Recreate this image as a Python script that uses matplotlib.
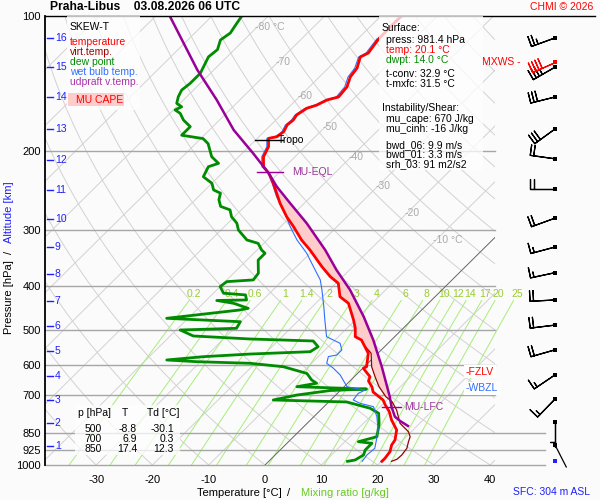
import numpy as np
import matplotlib
matplotlib.use('Agg')
import matplotlib.pyplot as plt
from matplotlib import transforms
from matplotlib.patches import Rectangle
from matplotlib.ticker import NullLocator

plt.rcParams['font.family'] = ['Liberation Sans', 'DejaVu Sans']

# ---- sounding (pressure hPa, temperature degC) ----
temp_p = [100.0, 102.1, 112.5, 120.9, 123.4, 130.6, 136.7, 143.9, 151.5, 153.8,
          157.9, 160.5, 166.1, 170.5, 174.9, 181.0, 185.7, 187.3, 195.5, 205.8,
          216.6, 224.0, 235.8, 261.3, 280.0, 294.6, 315.4, 332.0, 361.6, 380.7,
          393.8, 421.8, 436.4, 475.4, 496.1, 517.9, 526.8, 564.0, 604.1, 609.0,
          635.9, 650.0, 670.3, 687.7, 716.5, 735.2, 760.7, 793.9, 835.7, 879.7,
          902.5, 933.9, 966.4, 981.4]
temp_t = [-56.3, -56.4, -56.3, -55.6, -56.3, -54.9, -54.5, -53.3, -53.0, -54.5,
          -55.4, -56.6, -57.2, -56.9, -57.1, -56.5, -56.8, -58.0, -56.5, -55.6,
          -53.8, -51.7, -49.1, -44.3, -40.7, -37.7, -33.9, -30.6, -25.5, -22.2,
          -19.6, -16.9, -14.2, -10.3, -8.5, -7.0, -5.3, -1.7, 0.4, 0.1,
          2.8, 3.3, 5.0, 6.1, 9.3, 10.6, 12.5, 14.4, 17.1, 18.6,
          18.9, 19.8, 20.1, 20.1]

tv_p = [546.0, 564.0, 604.1, 635.9, 669.3, 704.5, 722.8, 754.2, 807.5, 843.0,
        865.0, 887.4, 918.0, 950.0, 971.2, 981.4]
tv_t = [-3.3, -1.2, 1.3, 3.7, 6.2, 9.2, 11.2, 13.5, 16.5, 19.5,
        20.7, 21.3, 22.2, 22.5, 22.4, 21.8]

wb_p = [112.5, 120.9, 123.4, 130.6, 136.7, 143.9, 151.5, 153.8, 157.9, 160.5,
        166.1, 170.5, 174.9, 181.0, 185.7, 187.3, 195.5, 205.8, 216.6, 223.6,
        235.8, 252.6, 275.4, 294.6, 315.4, 337.6, 361.6, 387.1, 407.6, 443.7,
        475.4, 517.9, 526.8, 535.8, 554.5, 568.8, 573.6, 593.6, 608.2, 630.3,
        669.3, 681.3, 692.6, 716.5, 728.8, 741.5, 780.6, 835.7, 879.7, 918.0,
        950.0, 981.4]
wb_t = [-56.6, -56.0, -56.6, -55.3, -54.9, -53.7, -53.4, -54.8, -55.7, -56.9,
        -57.5, -57.2, -57.4, -56.8, -57.1, -58.3, -56.8, -55.9, -54.1, -51.8,
        -49.3, -46.1, -41.6, -38.3, -34.7, -30.6, -27.0, -23.4, -21.3, -18.0,
        -15.4, -12.1, -10.3, -8.5, -7.0, -7.0, -8.2, -7.3, -5.3, -2.8,
        0.5, 4.3, 3.7, 4.0, 5.8, 8.8, 11.2, 13.8, 15.3, 16.5,
        16.3, 16.6]

dew_p = [100.0, 103.8, 109.1, 113.1, 118.8, 123.3, 134.2, 141.3, 146.2, 151.3,
         156.5, 159.3, 161.9, 164.7, 170.5, 176.4, 184.3, 187.5, 192.4, 205.8,
         212.9, 216.6, 228.0, 235.8, 244.0, 248.1, 256.6, 265.5, 270.3, 280.0,
         289.4, 299.7, 315.4, 320.9, 332.0, 337.6, 349.6, 374.0, 387.1, 390.5,
         400.5, 414.4, 418.0, 429.0, 430.1, 436.4, 447.8, 451.6, 471.3, 479.6,
         496.1, 500.4, 516.0, 524.0, 529.4, 545.2, 559.3, 566.1, 573.8, 583.6,
         588.7, 593.6, 604.1, 625.2, 646.4, 657.6, 669.3, 677.4, 682.6, 698.5,
         716.5, 723.8, 747.6, 767.0, 810.3, 865.0, 887.4, 894.7, 926.0, 950.0,
         974.7, 981.4]
dew_t = [-84.7, -84.3, -83.7, -84.2, -83.0, -83.3, -81.8, -81.8, -82.1, -81.5,
         -80.6, -79.1, -79.7, -78.2, -76.4, -74.0, -74.0, -69.6, -67.8, -64.8,
         -62.4, -63.6, -62.7, -60.0, -58.5, -56.7, -55.8, -54.3, -52.0, -50.5,
         -48.4, -46.9, -43.6, -41.0, -39.2, -38.0, -38.0, -35.6, -35.3, -39.7,
         -40.0, -38.2, -34.0, -32.9, -38.1, -34.6, -31.1, -32.3, -43.8, -30.1,
         -29.6, -39.3, -35.9, -25.3, -13.7, -11.8, -12.3, -22.6, -30.4, -36.3,
         -30.7, -20.9, -14.4, -9.0, -7.0, -5.5, -8.4, 4.4, -1.8, -6.9,
         -10.2, 3.2, 8.5, 10.9, 12.9, 14.8, 12.4, 15.1, 15.1, 15.7,
         15.1, 14.0]

parcel_p = [100.4, 131.7, 153.8, 179.4, 202.4, 224.0, 239.8, 261.3, 289.4, 332.0,
            367.9, 407.6, 467.3, 526.8, 604.1, 704.5, 741.5, 780.6, 798.0, 818.7]
parcel_t = [-97.3, -83.0, -74.1, -65.7, -58.0, -51.7, -47.9, -42.5, -36.0, -27.9,
            -22.3, -16.3, -9.1, -3.2, 3.1, 9.9, 12.0, 14.4, 16.1, 18.4]

# levels
lfc_p, lfc_t = 741.5, 12.0
eql_p, eql_t = 222.0, -51.8
tropo_p, tropo_t = 189.0, -57.6
fzlv_p = 620.0
wbzl_p = 675.0

# wind (km levels)
wind_p = [111.9, 130.0, 151.5, 178.5, 208.0, 243.0, 282.0, 327.0, 373.0, 429.0,
          488.0, 554.0, 630.0, 713.0, 802.0]
wind_dir = [250, 240, 256, 234, 278, 270, 250, 255, 258, 267, 263, 254, 236, 224, 180]
wind_spd = [25, 35, 30, 30, 20, 20, 20, 15, 15, 20, 20, 20, 15, 15, 5]
mxws_p, mxws_dir, mxws_spd = 126.6, 246, 40
calm_p, calm_dir = 902.0, 153
sfc_p = 981.4

alt_km = [16, 15, 14, 13, 12, 11, 10, 9, 8, 7, 6, 5, 4, 3, 2, 1]
alt_p = [111.9, 130.0, 151.5, 178.5, 209.2, 244.0, 283.2, 327.0, 375.5, 431.3,
         490.3, 557.3, 633.5, 716.5, 806.2, 907.1]

mix_w = [0.2, 0.4, 0.6, 1, 1.4, 2, 3, 4, 6, 8, 10, 12, 14, 17, 20, 25]
mix_lab = ['0.2', '0.4', '0.6', '1', '1.4', '2', '3', '4', '6', '8', '10', '12',
           '14', '17', '20', '25']

iso_lab_t = [-80, -70, -60, -50, -40, -30, -20, -10]
iso_lab_p = [105.6, 126.6, 150.7, 176.7, 206.1, 239.1, 274.7, 315.4]

p_ticks = [100, 200, 300, 400, 500, 600, 700, 850, 925, 1000]
t_ticks = [-30, -20, -10, 0, 10, 20, 30, 40]

tab_p = [500, 700, 850]
tab_t = [-8.8, 6.9, 17.4]
tab_td = [-30.1, 0.3, 12.3]

# colours
RED = '#ff0000'
VRED = '#990000'
GREEN = '#008c00'
BLUE = '#2f6fff'
PURPLE = '#990099'
MIXC = '#a6ee7a'
MIXT = '#99cc33'
GRID = '#d2d2d2'
PLINE = '#a6a6a6'
KMBLUE = '#1f1fff'

K = 35.0


def skx(t, p):
    return np.asarray(t, float) + K * np.log(1000.0 / np.asarray(p, float))


def td_from_w(w, p):
    e = w * p / (622.0 + w)
    a = np.log(e / 6.112)
    return 243.5 * a / (17.67 - a)


def fpos(x, y):
    return x / 600.0, 1 - y / 500.0


fig = plt.figure(figsize=(6, 5), dpi=100, facecolor='#fbfbfb')
ax = fig.add_axes([45 / 600, 35 / 500, 450 / 600, 449 / 500])
ax.set_facecolor('#fbfbfb')
ax.set_yscale('log')
ax.set_ylim(1000, 100)
ax.set_xlim(-39.08, 40.85)
blend = transforms.blended_transform_factory(ax.transAxes, ax.transData)

pp = np.geomspace(100, 1000, 60)
# isotherms
for t in range(-130, 50, 10):
    ax.plot(skx(t, pp), pp, color=GRID, lw=0.7, zorder=1)
ax.plot(skx(0, pp), pp, color='#606060', lw=0.6, zorder=1.6)
# dry adiabats
for th in range(-40, 230, 10):
    tt = (th + 273.15) * (pp / 1000.0) ** 0.2857 - 273.15
    ax.plot(skx(tt, pp), pp, color=GRID, lw=0.7, zorder=1)
# mixing ratio lines
pm = np.geomspace(430, 1000, 30)
for w, lab in zip(mix_w, mix_lab):
    ax.plot(skx(td_from_w(w, pm), pm), pm, color=MIXC, lw=0.7, zorder=1.2,
            clip_on=False)
    ax.text(skx(td_from_w(w, 416.0), 416.0), 416.0, lab, color=MIXT,
            fontsize=7.5, ha='center', va='center', zorder=1.3)
# isotherm labels
for t, p in zip(iso_lab_t, iso_lab_p):
    lab = '%d °C' % t if t in (-80, -10) else '%d' % t
    ax.text(skx(t, p) - 0.5, p, lab, color='#aaaaaa', fontsize=7.5,
            ha='left', va='center', zorder=1.3)

# pressure lines
for p in p_ticks[1:]:
    xmax = 500 / 450 if p >= 850 else 1.0
    ax.plot([0, xmax], [p, p], transform=blend, color=PLINE, lw=1.0,
            zorder=1.5, clip_on=False)
ax.plot([0, 550 / 450], [100, 100], transform=blend, color='k', lw=1.0,
        zorder=5, clip_on=False)

# CAPE shading
pg = np.geomspace(lfc_p, eql_p, 300)


def prof(p, t):
    p = np.asarray(p, float)
    t = np.asarray(t, float)
    o = np.argsort(p)
    return np.interp(np.log(pg), np.log(p[o]), t[o])


env = np.where(pg >= 546, prof(tv_p, tv_t), prof(temp_p, temp_t))
par = prof(parcel_p, parcel_t)
ax.fill_betweenx(pg, skx(env, pg), skx(par, pg), where=par >= env,
                 color='#ffcccc', lw=0, zorder=2)

# profiles
ax.plot(skx(dew_t, dew_p), dew_p, color=GREEN, lw=2.0, zorder=3)
ax.plot(skx(wb_t, wb_p), wb_p, color=BLUE, lw=0.8, zorder=3.2)
ax.plot(skx(tv_t, tv_p), tv_p, color=VRED, lw=0.9, zorder=3.3)
ax.plot(skx(temp_t, temp_p), temp_p, color=RED, lw=2.0, zorder=3.4)
ax.plot(skx(parcel_t, parcel_p), parcel_p, color=PURPLE, lw=1.8, zorder=3.5)

# level markers
xt = skx(tropo_t, tropo_p)
ax.plot([xt - 2.5, xt + 2.5], [tropo_p, tropo_p], color='k', lw=1.0, zorder=4)
ax.text(xt + 1.6, tropo_p, 'Tropo', fontsize=7.5, va='center', zorder=4)
xe = skx(eql_t, eql_p)
ax.plot([xe - 2.3, xe + 2.3], [eql_p, eql_p], color=PURPLE, lw=1.0, zorder=4)
ax.text(xe + 3.9, eql_p, 'MU-EQL', fontsize=7.5, color='#993399',
        va='center', zorder=4)
xl = skx(lfc_t, lfc_p)
ax.plot([xl - 1.7, xl + 1.7], [lfc_p, lfc_p], color=PURPLE, lw=1.0, zorder=4)
ax.text(xl + 2.2, lfc_p, 'MU-LFC', fontsize=7.5, color='#993399',
        va='center', zorder=4)
ax.text(0.9356, fzlv_p, '-FZLV', transform=blend, fontsize=7.5, color=RED,
        va='center', zorder=6,
        bbox=dict(facecolor='white', edgecolor='none', pad=1.2))
ax.text(0.9356, wbzl_p, '-WBZL', transform=blend, fontsize=7.5, color=BLUE,
        va='center', zorder=6,
        bbox=dict(facecolor='white', edgecolor='none', pad=1.2))

# altitude ticks
for km, p in zip(alt_km, alt_p):
    ax.plot([0.0044, 0.0178], [p, p], transform=blend, color=KMBLUE, lw=1.0,
            zorder=5, clip_on=False)
    ax.text(0.022, p, str(km), transform=blend, color=KMBLUE, fontsize=7.5,
            ha='left', va='center', zorder=5)

# axes styling
for s in ['top', 'right', 'bottom']:
    ax.spines[s].set_visible(False)
ax.spines['left'].set_linewidth(1.3)
ax.set_yticks(p_ticks)
ax.set_yticklabels([str(p) for p in p_ticks])
ax.yaxis.set_minor_locator(NullLocator())
ax.set_xticks(t_ticks)
ax.set_xticklabels([str(t) for t in t_ticks])
ax.tick_params(axis='both', length=0, labelsize=8)
ax.tick_params(axis='y', pad=3)
ax.tick_params(axis='x', pad=7)

# wind barbs
bx = fig.add_axes([495 / 600, 35 / 500, 105 / 600, 449 / 500])
bx.set_yscale('log')
bx.set_ylim(1000, 100)
bx.set_xlim(0, 105)
bx.axis('off')
d = np.radians(wind_dir)
u = -np.array(wind_spd) * np.sin(d)
v = -np.array(wind_spd) * np.cos(d)
bsz = dict(spacing=0.14, height=0.42, width=0.0)
bx.barbs(np.full(len(wind_p), 60.0), wind_p, u, v, length=6, sizes=bsz,
         linewidth=0.9, color='k', zorder=3)
dm = np.radians(mxws_dir)
bx.barbs([60.0], [mxws_p], [-mxws_spd * np.sin(dm)], [-mxws_spd * np.cos(dm)],
         length=6, sizes=bsz, linewidth=0.9, color=RED, zorder=3)
dc = np.radians(calm_dir)
bx.annotate('', xy=(60, calm_p), xytext=(18 * np.sin(dc), 18 * np.cos(dc)),
            textcoords='offset points',
            arrowprops=dict(arrowstyle='-', lw=0.9, color='k', shrinkA=0,
                            shrinkB=0))
bx.scatter(np.full(len(wind_p), 60.0), wind_p, marker='s', s=6, c='k',
           linewidths=0, zorder=4)
bx.scatter([60], [calm_p], marker='s', s=6, c='k', linewidths=0, zorder=4)
bx.scatter([60], [mxws_p], marker='s', s=6, c=RED, linewidths=0, zorder=4)
bx.scatter([60], [sfc_p], marker='s', s=6, c='#1f1fff', linewidths=0, zorder=4)
bx.text(-13, mxws_p, 'MXWS -', color=RED, fontsize=7.5, va='center')

# boxes
for (x0, y0, x1, y1) in [(67, 16, 140, 110), (379, 16, 483, 170), (75, 405, 180, 455)]:
    fig.patches.append(Rectangle(fpos(x0, y1), (x1 - x0) / 600, (y1 - y0) / 500,
                                 transform=fig.transFigure, facecolor='white',
                                 edgecolor='none', alpha=0.75, zorder=1))
fig.patches.append(Rectangle(fpos(68, 106), 56 / 600, 13 / 500,
                             transform=fig.transFigure, facecolor='#ffcccc',
                             edgecolor='none', zorder=1.1))

fs = 7.5
# legend
leg = [('SKEW-T', 'k', 26.7), ('temperature', RED, 42.3), ('virt.temp.', VRED, 52.3),
       ('dew point', GREEN, 62.3), ('wet bulb temp.', BLUE, 72.3),
       ('udpraft v.temp.', '#aa33aa', 82.3)]
for s, c, y in leg:
    fig.text(*fpos(70, y), s, color=c, fontsize=fs, va='center')
fig.text(*fpos(76, 100), 'MU CAPE', color=RED, fontsize=fs, va='center')

# surface info
info = [('Surface:', 'k', 382, 27.7), ('press: 981.4 hPa', 'k', 386.5, 40),
        ('temp: 20.1 °C', RED, 386.5, 50), ('dwpt: 14.0 °C', GREEN, 386.5, 60),
        ('t-conv: 32.9 °C', 'k', 386.5, 74), ('t-mxfc: 31.5 °C', 'k', 386.5, 84),
        ('Instability/Shear:', 'k', 382, 108), ('mu_cape: 670 J/kg', 'k', 386.5, 119),
        ('mu_cinh: -16 J/kg', 'k', 386.5, 129), ('bwd_06: 9.9 m/s', 'k', 386.5, 145),
        ('bwd_01: 3.3 m/s', 'k', 386.5, 154), ('srh_03: 91 m2/s2', 'k', 386.5, 164)]
for s, c, x, y in info:
    fig.text(*fpos(x, y), s, color=c, fontsize=fs, va='center')

# table
fig.text(*fpos(78, 413), 'p [hPa]', fontsize=fs, va='center')
fig.text(*fpos(125, 413), 'T', fontsize=fs, va='center', ha='center')
fig.text(*fpos(147, 413), 'Td [°C]', fontsize=fs, va='center')
for i, (p, t, td) in enumerate(zip(tab_p, tab_t, tab_td)):
    y = 429 + 10 * i
    fig.text(*fpos(93, y), str(p), fontsize=fs, va='center', ha='center')
    fig.text(*fpos(137, y), '%.1f' % t, fontsize=fs, va='center', ha='right')
    fig.text(*fpos(174, y), '%.1f' % td, fontsize=fs, va='center', ha='right')

# titles and axis labels
fig.text(*fpos(50, 7), 'Praha-Libus    03.08.2026 06 UTC', fontsize=8.7,
         weight='bold', va='center')
fig.text(*fpos(593, 7), 'CHMI © 2026', fontsize=fs, color=RED, va='center',
         ha='right')
fig.text(*fpos(590, 492), 'SFC: 304 m ASL', fontsize=fs, color=KMBLUE,
         va='center', ha='right')
fig.text(*fpos(239.5, 493), 'Temperature [°C]', fontsize=8, va='center', ha='center')
fig.text(*fpos(289, 493), '/', fontsize=8, va='center', ha='center')
fig.text(*fpos(344.5, 493), 'Mixing ratio [g/kg]', fontsize=8, color='#66cc22',
         va='center', ha='center')
fig.text(*fpos(9, 297.5), 'Pressure [hPa]', fontsize=8, rotation=90,
         va='center', ha='center')
fig.text(*fpos(9, 252), '/', fontsize=8, rotation=90, va='center', ha='center')
fig.text(*fpos(9, 212.5), 'Altitude [km]', fontsize=8, rotation=90,
         color=KMBLUE, va='center', ha='center')

fig.savefig('out.png', dpi=100, facecolor=fig.get_facecolor())
